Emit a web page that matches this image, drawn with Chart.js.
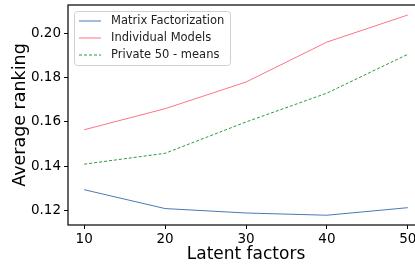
<!DOCTYPE html>
<html>
<head>
<meta charset="utf-8">
<script src="https://cdn.jsdelivr.net/npm/chart.js@4"></script>
<style>
  html, body { margin: 0; padding: 0; background: #fff; overflow: hidden; }
  #wrap { width: 425px; height: 265px; }
</style>
</head>
<body>
<div id="wrap"><canvas id="chart" width="425" height="265"></canvas></div>
<script>
const latentFactors = [10, 20, 30, 40, 50];
const matrixFactorization = [0.1295, 0.121, 0.119, 0.118, 0.1214];
const individualModels = [0.1565, 0.166, 0.178, 0.196, 0.2082];
const private50Means = [0.141, 0.1459, 0.160, 0.173, 0.1905];
const yTicks = [0.12, 0.14, 0.16, 0.18, 0.20];

const FONT = 'DejaVu Sans';

const toPoints = vals => latentFactors.map((x, i) => ({ x: x, y: vals[i] }));

// frame around the plot + legend box inside the plot area
const framePlugin = {
    id: 'frame',
    afterDraw(chart) {
        const { ctx, chartArea } = chart;
        ctx.save();
        ctx.strokeStyle = '#000';
        ctx.lineWidth = 1.2;
        ctx.strokeRect(chartArea.left, chartArea.top, chartArea.right - chartArea.left, chartArea.bottom - chartArea.top);

        const x0 = chartArea.left + 6, y0 = chartArea.top + 6;
        const w = 156, h = 54;
        ctx.fillStyle = 'rgba(255,255,255,0.8)';
        ctx.strokeStyle = '#d0d0d0';
        ctx.lineWidth = 1;
        ctx.beginPath();
        ctx.roundRect(x0 + 0.5, y0 + 0.5, w, h, 3);
        ctx.fill();
        ctx.stroke();

        ctx.font = '11.5px ' + FONT;
        ctx.textBaseline = 'middle';
        chart.data.datasets.forEach((ds, i) => {
            const yy = y0 + 10 + i * 17;
            ctx.strokeStyle = ds.borderColor;
            ctx.lineWidth = ds.borderWidth;
            ctx.setLineDash(ds.borderDash || []);
            ctx.beginPath();
            ctx.moveTo(x0 + 5, yy);
            ctx.lineTo(x0 + 27, yy);
            ctx.stroke();
            ctx.setLineDash([]);
            ctx.fillStyle = '#222';
            ctx.fillText(ds.label, x0 + 37, yy);
        });
        ctx.restore();
    }
};

new Chart(document.getElementById('chart').getContext('2d'), {
    type: 'line',
    data: {
        datasets: [
            {
                label: 'Matrix Factorization',
                data: toPoints(matrixFactorization),
                borderColor: '#4a7ab5',
                borderWidth: 1,
                pointRadius: 0,
                tension: 0
            },
            {
                label: 'Individual Models',
                data: toPoints(individualModels),
                borderColor: '#ff7484',
                borderWidth: 1,
                pointRadius: 0,
                tension: 0
            },
            {
                label: 'Private 50 - means',
                data: toPoints(private50Means),
                borderColor: '#2a9a3a',
                borderWidth: 1,
                borderDash: [3, 2],
                pointRadius: 0,
                tension: 0
            }
        ]
    },
    options: {
        responsive: false,
        animation: false,
        layout: { padding: { top: 5, right: 1, left: 0, bottom: 0 } },
        plugins: {
            legend: { display: false },
            tooltip: { enabled: false }
        },
        scales: {
            x: {
                type: 'linear',
                min: 8,
                max: 52,
                afterBuildTicks: axis => { axis.ticks = latentFactors.map(v => ({ value: v })); },
                afterFit: axis => { axis.height = 40; axis.paddingLeft = 0; axis.paddingRight = 0; },
                grid: { drawOnChartArea: false, tickLength: 4, color: '#000' },
                border: { display: false },
                ticks: { color: '#000', font: { family: FONT, size: 13.5 }, padding: 2, maxRotation: 0 },
                title: { display: true, text: 'Latent factors', color: '#000', font: { family: FONT, size: 17 }, padding: 0 }
            },
            y: {
                min: 0.1136,
                max: 0.2127,
                afterBuildTicks: axis => { axis.ticks = yTicks.map(v => ({ value: v })); },
                afterFit: axis => { axis.width = 68; axis.paddingTop = 0; axis.paddingBottom = 0; },
                grid: { drawOnChartArea: false, tickLength: 4, color: '#000' },
                border: { display: false },
                ticks: { color: '#000', font: { family: FONT, size: 13.5 }, padding: 3, callback: v => v.toFixed(2) },
                title: { display: true, text: 'Average ranking', color: '#000', font: { family: FONT, size: 17.5 }, padding: { top: 10, bottom: 0 } }
            }
        }
    },
    plugins: [framePlugin]
});
</script>
</body>
</html>
